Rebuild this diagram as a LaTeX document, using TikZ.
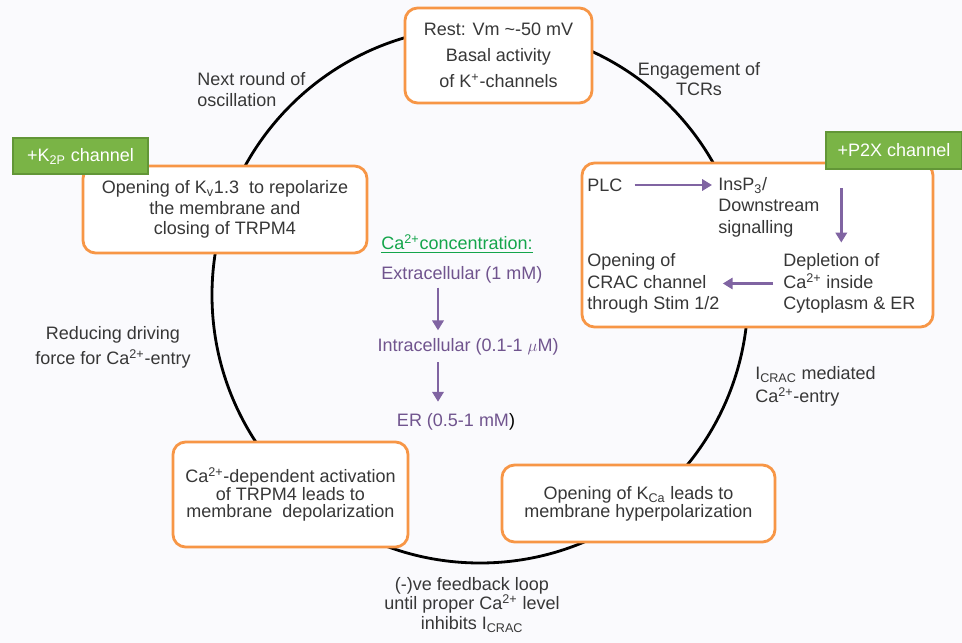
\documentclass[tikz,border=0pt]{standalone}
\usepackage{fontspec}
\setmainfont{Liberation Sans}
\usetikzlibrary{arrows.meta}

\definecolor{boxorange}{RGB}{247,150,70}
\definecolor{chgreen}{RGB}{122,180,70}
\definecolor{chgreendark}{RGB}{98,150,55}
\definecolor{flowpurple}{RGB}{128,100,162}
\definecolor{txtpurple}{RGB}{112,84,142}
\definecolor{capgreen}{RGB}{20,165,75}
\definecolor{ink}{RGB}{55,55,55}
\definecolor{paper}{RGB}{250,250,253}

\newcommand{\fsz}[1]{\fontsize{12.8}{#1}\selectfont}

\tikzset{
  box/.style={draw=boxorange, line width=2pt, rounded corners=9pt, fill=white, align=center, text=ink, inner sep=2pt},
  chan/.style={draw=chgreendark, line width=1.5pt, fill=chgreen, text=white, inner sep=2pt},
  lbl/.style={text=ink, inner sep=0pt},
  flow/.style={draw=flowpurple, line width=2pt, -{Triangle[length=7pt,width=8pt]}},
  ring/.style={line width=2pt}
}

\begin{document}
\begin{tikzpicture}[x=0.025cm,y=-0.025cm,font=\fsz{15}]
\fill[paper] (0,0) rectangle (962,643);
\useasboundingbox (0,0) rectangle (962,643);

% oscillation cycle
\draw[ring] (480,295) circle[radius=268];

% boxes on the cycle
\node[box, minimum width=4.675cm, minimum height=2.375cm, font=\fsz{18.5}] (rest) at (498.5,55.5) {Rest: Vm \textasciitilde-50 mV\\Basal activity\\of K\textsuperscript{+}-channels};
\node[box, minimum width=7.1cm, minimum height=2.175cm, font=\fsz{14.5}] (kv) at (225,209.5) {Opening of K\textsubscript{v}1.3 \ to repolarize\\the membrane and\\closing of TRPM4};
\node[chan, minimum width=3.375cm, minimum height=0.9cm] (k2p) at (80.5,156) {+K\textsubscript{2P} channel};
\node[box, minimum width=8.775cm, minimum height=4.1cm] (signal) at (757.5,245) {};
\node[chan, minimum width=3.4cm, minimum height=0.925cm] (p2x) at (894,150.5) {+P2X channel};
\node[box, minimum width=5.875cm, minimum height=2.625cm, font=\fsz{12.6}] (trpm) at (290.5,494.5) {Ca\textsuperscript{2+}-dependent activation\\of TRPM4 leads to\\membrane \ depolarization};
\node[box, minimum width=6.825cm, minimum height=1.925cm, font=\fsz{12.8}] (kca) at (638.5,503.5) {Opening of K\textsubscript{Ca} leads to\\membrane hyperpolarization};

% signalling inside the right box
\node[lbl, anchor=west] (plc) at (587,185) {PLC};
\node[lbl, anchor=west, align=left, font=\fsz{15.3}] (insp) at (718,207) {InsP\textsubscript{3}/\\Downstream\\signalling};
\node[lbl, anchor=west, align=left, font=\fsz{15.3}] (dep) at (783,283.5) {Depletion of\\Ca\textsuperscript{2+} inside\\Cytoplasm \& ER};
\node[lbl, anchor=west, align=left, font=\fsz{15.3}] (crac) at (587,283.5) {Opening of\\CRAC channel\\through Stim 1/2};
\coordinate (dn) at ([xshift=-0.2cm]dep.north);

\draw[flow, shorten <=0.3cm, shorten >=0.15cm] (plc.east) -- (plc.east -| insp.west);
\draw[flow, shorten <=0.08cm, shorten >=0.27cm] (dn |- plc.east) -- (dn);
\draw[flow, shorten <=0.25cm, shorten >=0.08cm] (dep.west) -- (dep.west -| crac.east);

% calcium levels
\node[lbl, text=capgreen] (conc) at (457,244) {\underline{Ca\textsuperscript{2+}concentration:}};
\node[lbl, text=txtpurple] (extra) at (462,275) {Extracellular (1 mM)};
\node[lbl, text=txtpurple] (intra) at (468,347) {Intracellular (0.1-1 $\mu$M)};
\node[lbl, text=txtpurple] (er) at (456,422) {ER (0.5-1 mM\textcolor{black}{)}};
\coordinate (cx) at (438,0);

\draw[flow, shorten <=0.1cm, shorten >=0.2cm] (extra.south -| cx) -- (intra.north -| cx);
\draw[flow, shorten <=0.16cm, shorten >=0.29cm] (intra.south -| cx) -- (er.north -| cx);

% labels along the cycle
\node[lbl, anchor=west, align=left] (next) at (197,89.5) {Next round of\\oscillation};
\node[lbl, align=center, font=\fsz{14.2}] (engage) at (699,79) {Engagement of\\TCRs};
\node[lbl, align=center, font=\fsz{17.8}] (reduce) at (113,347.5) {Reducing driving\\force for Ca\textsuperscript{2+}-entry};
\node[lbl, anchor=west, align=left, font=\fsz{16.4}] (icrac) at (755,386.5) {I\textsubscript{CRAC} mediated\\Ca\textsuperscript{2+}-entry};
\node[lbl, align=center, font=\fsz{14.2}] (loop) at (472,605) {(-)ve feedback loop\\until proper Ca\textsuperscript{2+} level\\inhibits I\textsubscript{CRAC}};
\end{tikzpicture}
\end{document}
